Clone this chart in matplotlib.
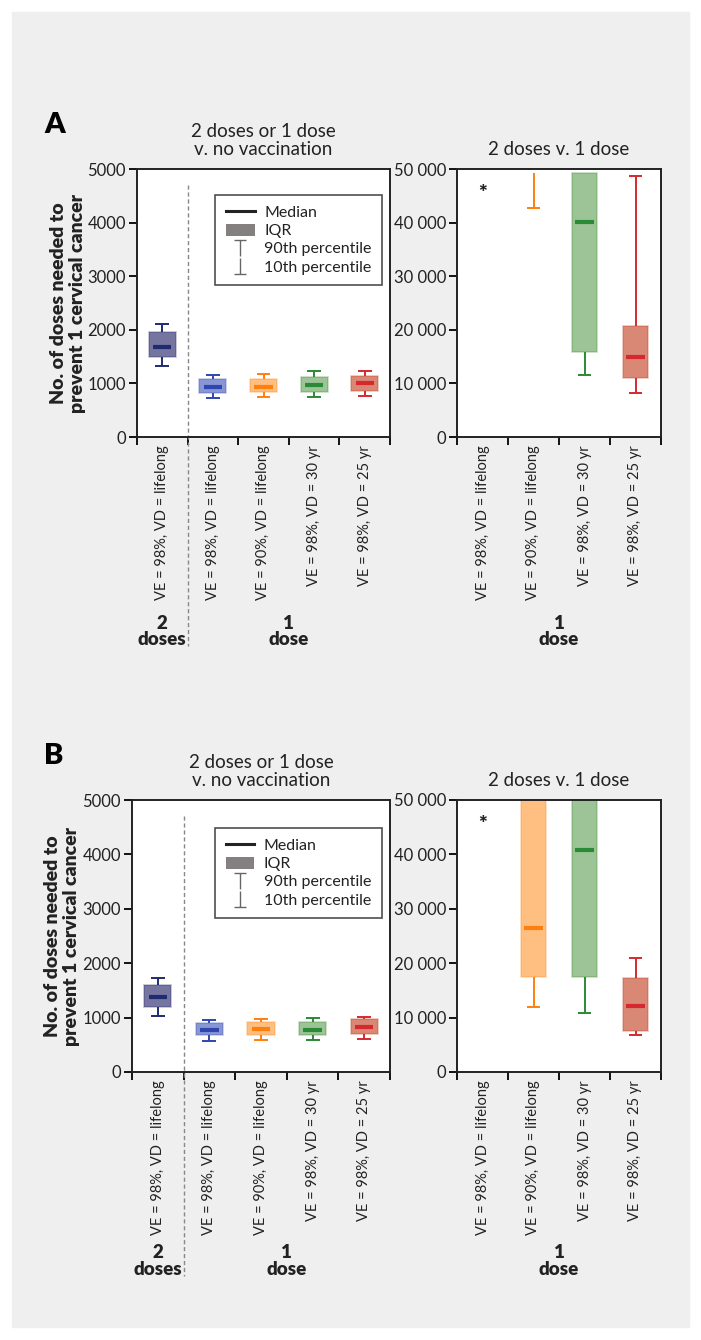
import numpy as np
import matplotlib
matplotlib.use('Agg')
import matplotlib.pyplot as plt
from matplotlib.lines import Line2D
from matplotlib.patches import Patch, Rectangle
from matplotlib.path import Path
from matplotlib.colors import to_rgba
from matplotlib.transforms import blended_transform_factory

plt.rcParams['font.family'] = ['Lato', 'DejaVu Sans']

# category labels
left_labels = ['VE = 98%, VD = lifelong', 'VE = 98%, VD = lifelong',
               'VE = 90%, VD = lifelong', 'VE = 98%, VD = 30 yr',
               'VE = 98%, VD = 25 yr']
right_labels = ['VE = 98%, VD = lifelong', 'VE = 90%, VD = lifelong',
                'VE = 98%, VD = 30 yr', 'VE = 98%, VD = 25 yr']

nan = np.nan

# panel A, doses vs no vaccination (10th, Q1, median, Q3, 90th)
a_left_p10 = [1325, 734, 746, 752, 771]
a_left_q1 = [1500, 827, 840, 840, 858]
a_left_med = [1688, 938, 940, 970, 1007]
a_left_q3 = [1965, 1082, 1090, 1119, 1138]
a_left_p90 = [2103, 1157, 1175, 1231, 1237]

# panel A, 2 doses vs 1 dose (values above 50 000 not shown)
a_right_p10 = [nan, 42700, 11570, 8150]
a_right_q1 = [nan, 49300, 15920, 11070]
a_right_med = [nan, nan, 40170, 14990]
a_right_q3 = [nan, nan, 49200, 20710]
a_right_p90 = [nan, nan, nan, 48700]

# panel B
b_left_p10 = [1029, 576, 588, 588, 601]
b_left_q1 = [1201, 674, 686, 674, 699]
b_left_med = [1373, 772, 785, 779, 821]
b_left_q3 = [1599, 907, 919, 919, 968]
b_left_p90 = [1722, 956, 980, 998, 1017]

b_right_p10 = [nan, 11870, 10830, 6830]
b_right_q1 = [nan, 17470, 17470, 7560]
b_right_med = [nan, 26510, 40770, 12130]
b_right_q3 = [nan, 50000, 50000, 17220]
b_right_p90 = [nan, nan, nan, 20980]

line_cols = ['#1f2a70', '#2f46b0', '#ff7f0e', '#2a8a35', '#d42a2f']
fill_cols = ['#2c2c6e', '#3a50b8', '#ff8c1a', '#3d8a2e', '#c0391b']
fill_alpha = [0.65, 0.6, 0.55, 0.5, 0.6]

W, H = 701, 1340
fig = plt.figure(figsize=(W / 100, H / 100), dpi=100)
fig.patches.append(Rectangle((12 / W, 1 - 1327 / H), 677 / W, 1315 / H,
                             transform=fig.transFigure, color='#eeefee', zorder=-10))

top_mark = Path([(-0.35, 0.5), (0.35, 0.5), (0, 0.5), (0, -0.5)],
                [Path.MOVETO, Path.LINETO, Path.MOVETO, Path.LINETO])
bot_mark = Path([(-0.35, -0.5), (0.35, -0.5), (0, -0.5), (0, 0.5)],
                [Path.MOVETO, Path.LINETO, Path.MOVETO, Path.LINETO])


def px_axes(x0, y0, x1, y1):
    return fig.add_axes([x0 / W, 1 - y1 / H, (x1 - x0) / W, (y1 - y0) / H])


def draw_boxes(ax, p10, q1, med, q3, p90, cols, fcols, alphas, bw, cw, mw):
    x = np.arange(len(p10)) + 0.5
    for i in range(len(p10)):
        lc = cols[i]
        if not np.isnan(q1[i]) and not np.isnan(q3[i]):
            ax.bar(x[i], q3[i] - q1[i], bottom=q1[i], width=bw,
                   facecolor=to_rgba(fcols[i], alphas[i]),
                   edgecolor=to_rgba(fcols[i], 0.3), lw=1.2, zorder=2)
        if not np.isnan(med[i]):
            ax.hlines(med[i], x[i] - mw / 2, x[i] + mw / 2, color=lc, lw=3, zorder=3)
        if not np.isnan(p10[i]):
            ax.vlines(x[i], p10[i], q1[i], color=lc, lw=1.4, zorder=1)
            ax.hlines(p10[i], x[i] - cw / 2, x[i] + cw / 2, color=lc, lw=1.4, zorder=1)
        if not np.isnan(p90[i]):
            ax.vlines(x[i], q3[i], p90[i], color=lc, lw=1.4, zorder=1)
            ax.hlines(p90[i], x[i] - cw / 2, x[i] + cw / 2, color=lc, lw=1.4, zorder=1)


def fmt_space(v):
    v = int(v)
    if v < 10000:
        return str(v)
    return '{:,}'.format(v).replace(',', ' ')


def style_axes(ax, n, labels, ymax):
    ax.set_xlim(0, n)
    ax.set_ylim(0, ymax)
    ax.set_xticks(np.arange(n + 1))
    ax.set_xticklabels([])
    ax.set_xticks(np.arange(n) + 0.5, minor=True)
    ax.set_xticklabels(labels, minor=True, rotation=90, fontsize=10.5, color='#222222')
    ax.tick_params(axis='x', which='minor', length=0, pad=6)
    ax.tick_params(axis='x', which='major', length=6, width=1.3, direction='out')
    yt = np.linspace(0, ymax, 6)
    ax.set_yticks(yt)
    ax.set_yticklabels([fmt_space(v) for v in yt], fontsize=12, color='#222222')
    ax.tick_params(axis='y', length=6, width=1.3, pad=2)
    for s in ax.spines.values():
        s.set_linewidth(1.4)
        s.set_color('#222222')


def draw_legend(ax, top):
    handles = [Line2D([], [], color='#222222', lw=2.2),
               Patch(facecolor='#858080', edgecolor='none'),
               Line2D([], [], color='#666666', marker=top_mark, ls='none', ms=12, mew=1.0),
               Line2D([], [], color='#666666', marker=bot_mark, ls='none', ms=12, mew=1.0)]
    names = ['Median', 'IQR', '90th percentile', '10th percentile']
    leg = ax.legend(handles, names, loc='upper right', bbox_to_anchor=(0.968, top),
                    fontsize=11.5, frameon=True, fancybox=False, handlelength=1.8,
                    handleheight=0.8, handletextpad=0.6, labelspacing=0.22,
                    borderpad=0.65, borderaxespad=0)
    leg.get_frame().set_edgecolor('#222222')
    leg.get_frame().set_linewidth(1.2)
    for t in leg.get_texts():
        t.set_color('#222222')


def panel(letter, ltop, lbottom, lx0, rx0, lp, rp, leg_top, dash_bot, grp_y):
    ax1 = px_axes(lx0, ltop, 390, lbottom)
    ax2 = px_axes(rx0, ltop, 661, lbottom)
    draw_boxes(ax1, *lp, line_cols, fill_cols, fill_alpha, 0.53, 0.27, 0.36)
    draw_boxes(ax2, *rp, line_cols[1:], fill_cols[1:], fill_alpha[1:], 0.5, 0.27, 0.37)
    style_axes(ax1, 5, left_labels, 5000)
    style_axes(ax2, 4, right_labels, 50000)

    tr = blended_transform_factory(ax1.transData, ax1.transAxes)
    ax1.plot([1, 1], [0.94, dash_bot], transform=tr, clip_on=False,
             ls='--', lw=1.0, color='#888888', dashes=(3, 2))

    ax1.set_ylabel('No. of doses needed to\nprevent 1 cervical cancer',
                   fontsize=14, fontweight='heavy', color='#222222', linespacing=1.15)
    ax1.yaxis.set_label_coords(-0.2, 0.5)

    ax1.set_title('2 doses or 1 dose\nv. no vaccination', fontsize=13.5,
                  color='#222222', pad=10, linespacing=1.1)
    ax2.set_title('2 doses v. 1 dose', fontsize=13.5, color='#222222', pad=10)

    ax1.text(0.5, grp_y, '2\ndoses', transform=tr, ha='center', va='center',
             fontsize=13.5, fontweight='heavy', color='#222222', linespacing=0.95)
    ax1.text(3, grp_y, '1\ndose', transform=tr, ha='center', va='center',
             fontsize=13.5, fontweight='heavy', color='#222222', linespacing=0.95)
    tr2 = blended_transform_factory(ax2.transData, ax2.transAxes)
    ax2.text(2, grp_y, '1\ndose', transform=tr2, ha='center', va='center',
             fontsize=13.5, fontweight='heavy', color='#222222', linespacing=0.95)

    ax2.text(0.5, 45500, '*', ha='center', va='center', fontsize=15,
             fontweight='heavy', color='#222222')

    draw_legend(ax1, leg_top)
    fig.text(44 / W, 1 - (ltop - 36) / H, letter, fontsize=21, fontweight='heavy',
             color='black', va='baseline')


panel('A', 169, 437, 137, 457,
      (a_left_p10, a_left_q1, a_left_med, a_left_q3, a_left_p90),
      (a_right_p10, a_right_q1, a_right_med, a_right_q3, a_right_p90),
      0.903, -0.78, -0.725)
panel('B', 800, 1072, 132, 457,
      (b_left_p10, b_left_q1, b_left_med, b_left_q3, b_left_p90),
      (b_right_p10, b_right_q1, b_right_med, b_right_q3, b_right_p90),
      0.897, -0.75, -0.695)

fig.savefig('out.png', dpi=100, facecolor='white')
